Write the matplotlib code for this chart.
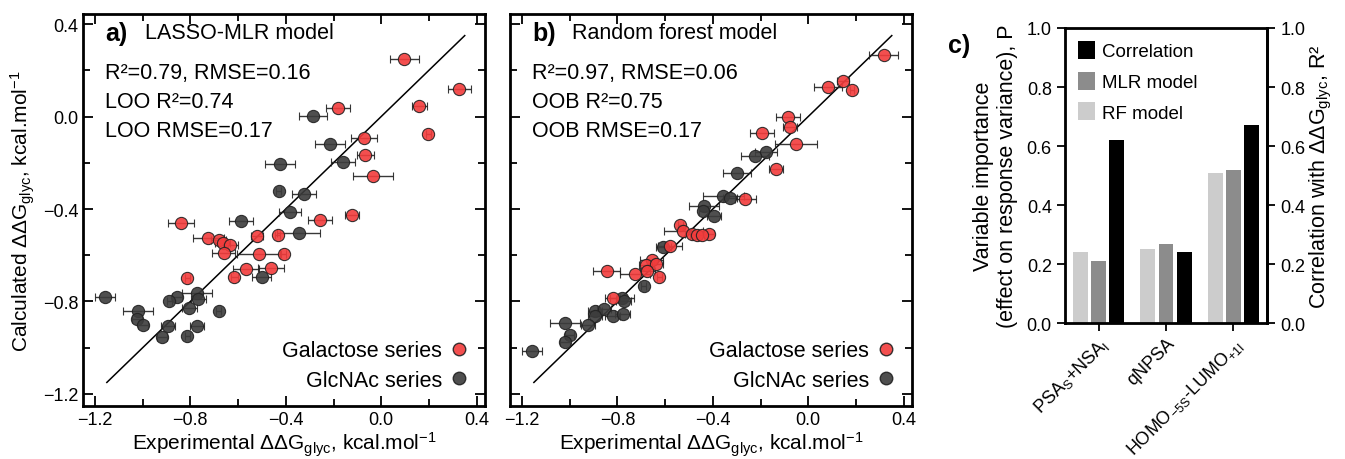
import numpy as np
import matplotlib
matplotlib.use('Agg')
import matplotlib.pyplot as plt
from matplotlib.lines import Line2D

plt.rcParams['font.family'] = ['Liberation Sans', 'DejaVu Sans']
plt.rcParams['mathtext.fontset'] = 'custom'
plt.rcParams['mathtext.rm'] = 'Liberation Sans'
plt.rcParams['mathtext.it'] = 'Liberation Sans:italic'

# panel a - LASSO-MLR (experimental, calculated, x error)
mlr_gal_x = [0.097, 0.328, -0.181, 0.160, 0.198, -0.072, -0.067, -0.034, -0.122, -0.257, -0.838, -0.522,
             -0.434, -0.724, -0.682, -0.665, -0.632, -0.661, -0.514, -0.408, -0.568, -0.463, -0.615, -0.813]
mlr_gal_y = [0.247, 0.120, 0.038, 0.046, -0.076, -0.093, -0.168, -0.259, -0.425, -0.447, -0.460, -0.517,
             -0.513, -0.526, -0.534, -0.548, -0.556, -0.591, -0.596, -0.596, -0.661, -0.657, -0.692, -0.700]
mlr_gal_err = [0.06, 0.05, 0.05, 0.03, 0.01, 0.055, 0.035, 0.085, 0.03, 0.05, 0.055, 0.025,
               0.01, 0.065, 0.03, 0.03, 0.03, 0.05, 0.09, 0.01, 0.055, 0.055, 0.015, 0.01]
mlr_glc_x = [-0.286, -0.215, -0.160, -0.425, -0.429, -0.324, -0.383, -0.589, -0.345, -0.501, -1.158, -0.771,
             -0.766, -0.855, -0.888, -0.804, -0.682, -1.019, -1.023, -0.998, -0.893, -0.771, -0.918, -0.813]
mlr_glc_y = [0.003, -0.120, -0.198, -0.207, -0.320, -0.334, -0.412, -0.452, -0.504, -0.692, -0.779, -0.762,
             -0.788, -0.779, -0.800, -0.830, -0.840, -0.840, -0.875, -0.900, -0.906, -0.906, -0.954, -0.950]
mlr_glc_err = [0.06, 0.063, 0.05, 0.063, 0.01, 0.05, 0.046, 0.05, 0.09, 0.04, 0.042, 0.063,
               0.03, 0.02, 0.01, 0.03, 0.01, 0.063, 0.02, 0.02, 0.03, 0.03, 0.02, 0.01]

# panel b - random forest
rf_gal_x = [0.316, 0.082, 0.145, 0.183, -0.085, -0.077, -0.193, -0.051, -0.135, -0.264, -0.536, -0.523, -0.486,
            -0.465, -0.415, -0.444, -0.578, -0.657, -0.678, -0.640, -0.845, -0.728, -0.674, -0.624, -0.820]
rf_gal_y = [0.265, 0.129, 0.155, 0.116, 0.000, -0.045, -0.072, -0.120, -0.229, -0.355, -0.469, -0.495, -0.508,
            -0.513, -0.508, -0.513, -0.561, -0.622, -0.644, -0.639, -0.666, -0.683, -0.670, -0.696, -0.783]
rf_gal_err = [0.06, 0.06, 0.025, 0.01, 0.05, 0.03, 0.05, 0.087, 0.03, 0.045, 0.01, 0.08, 0.03,
              0.03, 0.02, 0.02, 0.05, 0.05, 0.03, 0.03, 0.056, 0.063, 0.03, 0.01, 0.03]
rf_glc_x = [-0.177, -0.223, -0.298, -0.356, -0.327, -0.436, -0.440, -0.394, -0.607, -0.690, -0.782,
            -0.774, -0.895, -0.857, -0.820, -0.778, -0.895, -1.020, -0.924, -1.000, -1.020, -1.158]
rf_glc_y = [-0.155, -0.172, -0.246, -0.342, -0.351, -0.386, -0.408, -0.430, -0.565, -0.731, -0.783,
            -0.800, -0.840, -0.831, -0.862, -0.853, -0.862, -0.893, -0.901, -0.945, -0.975, -1.015]
rf_glc_err = [0.045, 0.06, 0.06, 0.085, 0.03, 0.063, 0.02, 0.03, 0.03, 0.01, 0.05,
              0.03, 0.03, 0.03, 0.03, 0.03, 0.03, 0.063, 0.03, 0.02, 0.02, 0.04]

# panel c - variable importance
descriptors = ['PSA$_{\\mathregular{S}}$+NSA$_{\\mathregular{I}}$', 'qNPSA',
               'HOMO$_{\\mathregular{-5S}}$-LUMO$_{\\mathregular{+1I}}$']
rf_importance = [0.24, 0.25, 0.51]
mlr_importance = [0.21, 0.27, 0.52]
correlation = [0.62, 0.24, 0.67]

RED = '#f23c3c'
DARK = '#3c3c3c'
DDG = '\u0394\u0394G$_{\\mathregular{glyc}}$'
UNIT = 'kcal.mol$^{\\mathregular{-1}}$'
TICKS = [-1.2, -0.8, -0.4, 0.0, 0.4]
TICKLABELS = ['\u22121.2', '\u22120.8', '\u22120.4', '0.0', '0.4']


def scatter_panel(ax, gx, gy, gerr, cx, cy, cerr, letter, title, stats):
    ax.plot([-1.15, 0.35], [-1.15, 0.35], color='black', lw=1.1, zorder=1)
    for x, y, e, c in [(cx, cy, cerr, DARK), (gx, gy, gerr, RED)]:
        ax.errorbar(x, y, xerr=e, fmt='o', ms=8.8, mfc=c, mec='#222222', mew=0.8,
                    ecolor='#222222', elinewidth=1, capsize=3, capthick=1, alpha=0.9, zorder=3)
    ax.set_xlim(-1.25, 0.435)
    ax.set_ylim(-1.252, 0.443)
    ax.set_xticks(TICKS)
    ax.set_yticks(TICKS)
    ax.set_xticks(np.arange(-1.2, 0.41, 0.2), minor=True)
    ax.set_yticks(np.arange(-1.2, 0.41, 0.2), minor=True)
    ax.set_xticklabels(TICKLABELS)
    ax.tick_params(which='both', direction='in', top=True, right=True, width=1.3, labelsize=13)
    ax.tick_params(which='major', length=7)
    ax.tick_params(which='minor', length=5)
    for s in ax.spines.values():
        s.set_linewidth(2)
    ax.set_xlabel('Experimental ' + DDG + ', ' + UNIT, fontsize=15, labelpad=1)
    ax.text(0.055, 0.952, letter, transform=ax.transAxes, fontsize=18, fontweight='bold', va='center')
    ax.text(0.155, 0.952, title, transform=ax.transAxes, fontsize=15.5, va='center')
    for i, s in enumerate(stats):
        ax.text(0.055, 0.85 - i * 0.074, s, transform=ax.transAxes, fontsize=15.5, va='center')
    handles = [Line2D([], [], ls='none', marker='o', ms=9, mfc=RED, mec='#222222', alpha=0.9),
               Line2D([], [], ls='none', marker='o', ms=9, mfc=DARK, mec='#222222', alpha=0.9)]
    ax.legend(handles, ['Galactose series', 'GlcNAc series'], loc='lower right', markerfirst=False,
              frameon=False, fontsize=15.5, handletextpad=0.3, labelspacing=0.4,
              borderaxespad=0.3, handlelength=1.0)


fig = plt.figure(figsize=(13.45, 4.6), dpi=100)
ax1 = fig.add_axes([0.0617, 0.1152, 0.2989, 0.852])
ax2 = fig.add_axes([0.3792, 0.1152, 0.2989, 0.852])
ax3 = fig.add_axes([0.7918, 0.295, 0.1502, 0.642])

scatter_panel(ax1, mlr_gal_x, mlr_gal_y, mlr_gal_err, mlr_glc_x, mlr_glc_y, mlr_glc_err,
              'a)', 'LASSO-MLR model',
              ['R\u00b2=0.79, RMSE=0.16', 'LOO R\u00b2=0.74', 'LOO RMSE=0.17'])
ax1.set_yticklabels(TICKLABELS)
ax1.set_ylabel('Calculated ' + DDG + ', ' + UNIT, fontsize=15, labelpad=4)

scatter_panel(ax2, rf_gal_x, rf_gal_y, rf_gal_err, rf_glc_x, rf_glc_y, rf_glc_err,
              'b)', 'Random forest model',
              ['R\u00b2=0.97, RMSE=0.06', 'OOB R\u00b2=0.75', 'OOB RMSE=0.17'])
ax2.set_yticklabels([])

# panel c
pos = np.arange(len(descriptors))
w = 0.22
ax3.bar(pos - 0.27, rf_importance, w, color='#cccccc', label='RF model')
ax3.bar(pos, mlr_importance, w, color='#8c8c8c', label='MLR model')
ax3.bar(pos + 0.27, correlation, w, color='black', label='Correlation')
ax3.set_xlim(-0.5, 2.5)
ax3.set_ylim(0, 1.0)
ax3.set_yticks(np.arange(0, 1.01, 0.2))
ax3.set_xticks(pos)
ax3.set_xticklabels(descriptors, rotation=45, ha='right', rotation_mode='anchor', fontsize=11.5)
ax3.tick_params(direction='out', width=1.3, length=6, labelsize=13)
ax3.tick_params(axis='x', pad=2)
for s in ax3.spines.values():
    s.set_linewidth(2)
ax3.set_ylabel('Variable importance\n(effect on response variance), P', fontsize=15.5, labelpad=6)

ax3r = ax3.twinx()
ax3r.set_ylim(0, 1.0)
ax3r.set_yticks(np.arange(0, 1.01, 0.2))
ax3r.tick_params(direction='out', width=1.3, length=6, labelsize=13)
ax3r.spines['right'].set_linewidth(2)
ax3r.set_ylabel('Correlation with ' + DDG + ', R\u00b2', fontsize=15.5, labelpad=2)

h, l = ax3.get_legend_handles_labels()
ax3.legend(h[::-1], l[::-1], loc='upper left', frameon=False, fontsize=13.5, handlelength=0.9,
           handleheight=1.1, handletextpad=0.4, labelspacing=0.6, borderaxespad=0.3)
fig.text(0.705, 0.885, 'c)', fontsize=18, fontweight='bold')

fig.savefig('out.png', dpi=100)
